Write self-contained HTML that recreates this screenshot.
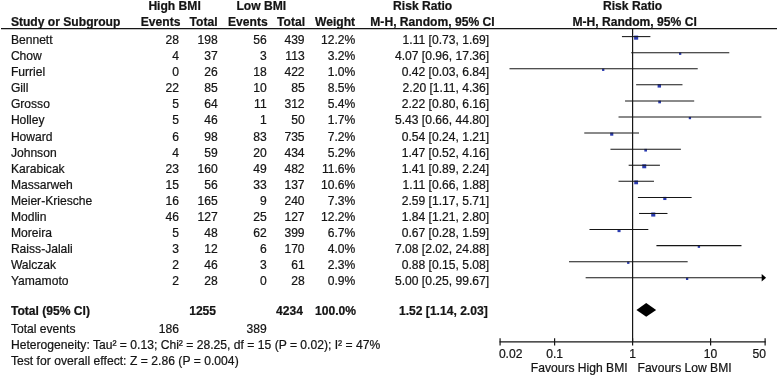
<!DOCTYPE html>
<html><head><meta charset="utf-8"><title>Forest plot</title>
<style>
html,body{margin:0;padding:0;background:#fff;}
body{width:778px;height:375px;position:relative;overflow:hidden;font-family:"Liberation Sans",sans-serif;}
.t{position:absolute;white-space:nowrap;line-height:1;font-size:12.1px;color:#141414;-webkit-text-stroke:0.22px #141414;}
svg{position:absolute;left:0;top:0;}
#txt{position:absolute;left:0;top:0;width:778px;height:375px;filter:blur(0.35px);}
</style></head><body>
<svg width="778" height="375" viewBox="0 0 778 375">
<rect x="634.09" y="35.61" width="4.09" height="4.09" fill="#2b3cb0"/>
<rect x="679.00" y="52.58" width="2.30" height="2.30" fill="#2b3cb0"/>
<rect x="602.06" y="68.66" width="2.30" height="2.30" fill="#2b3cb0"/>
<rect x="657.60" y="84.18" width="3.41" height="3.41" fill="#2b3cb0"/>
<rect x="658.26" y="100.61" width="2.72" height="2.72" fill="#2b3cb0"/>
<rect x="688.76" y="116.90" width="2.30" height="2.30" fill="#2b3cb0"/>
<rect x="610.16" y="132.56" width="3.14" height="3.14" fill="#2b3cb0"/>
<rect x="644.32" y="148.88" width="2.67" height="2.67" fill="#2b3cb0"/>
<rect x="642.25" y="164.30" width="3.98" height="3.98" fill="#2b3cb0"/>
<rect x="634.23" y="180.47" width="3.81" height="3.81" fill="#2b3cb0"/>
<rect x="663.26" y="196.87" width="3.16" height="3.16" fill="#2b3cb0"/>
<rect x="651.21" y="212.49" width="4.09" height="4.09" fill="#2b3cb0"/>
<rect x="617.52" y="229.10" width="3.03" height="3.03" fill="#2b3cb0"/>
<rect x="697.73" y="245.52" width="2.34" height="2.34" fill="#2b3cb0"/>
<rect x="627.12" y="261.62" width="2.30" height="2.30" fill="#2b3cb0"/>
<rect x="685.97" y="277.70" width="2.30" height="2.30" fill="#2b3cb0"/>
<line x1="621.94" y1="36.60" x2="650.38" y2="36.60" stroke="#161616" stroke-width="1.05"/>
<line x1="631.22" y1="52.68" x2="729.28" y2="52.68" stroke="#161616" stroke-width="1.05"/>
<line x1="509.49" y1="68.76" x2="697.73" y2="68.76" stroke="#161616" stroke-width="1.05"/>
<line x1="636.14" y1="84.84" x2="682.48" y2="84.84" stroke="#161616" stroke-width="1.05"/>
<line x1="625.04" y1="100.92" x2="694.19" y2="100.92" stroke="#161616" stroke-width="1.05"/>
<line x1="618.52" y1="117.00" x2="761.40" y2="117.00" stroke="#161616" stroke-width="1.05"/>
<line x1="584.26" y1="133.08" x2="639.06" y2="133.08" stroke="#161616" stroke-width="1.05"/>
<line x1="610.45" y1="149.16" x2="680.89" y2="149.16" stroke="#161616" stroke-width="1.05"/>
<line x1="628.65" y1="165.24" x2="659.92" y2="165.24" stroke="#161616" stroke-width="1.05"/>
<line x1="618.52" y1="181.32" x2="653.98" y2="181.32" stroke="#161616" stroke-width="1.05"/>
<line x1="637.92" y1="197.40" x2="691.62" y2="197.40" stroke="#161616" stroke-width="1.05"/>
<line x1="639.06" y1="213.48" x2="667.48" y2="213.48" stroke="#161616" stroke-width="1.05"/>
<line x1="589.48" y1="229.56" x2="648.31" y2="229.56" stroke="#161616" stroke-width="1.05"/>
<line x1="656.42" y1="245.64" x2="741.48" y2="245.64" stroke="#161616" stroke-width="1.05"/>
<line x1="569.01" y1="261.72" x2="687.66" y2="261.72" stroke="#161616" stroke-width="1.05"/>
<line x1="585.64" y1="277.80" x2="762.50" y2="277.80" stroke="#161616" stroke-width="1.05"/>
<path d="M766.1 277.80 l-4.4 -3.7 v7.4 z" fill="#000"/>
<path d="M636.45 309.95 L646.2 303.05 L656.15 309.95 L646.2 316.85 z" fill="#000"/>
<line x1="632.6" y1="28.55" x2="632.6" y2="341.8" stroke="#161616" stroke-width="1.2"/>
<line x1="499.58" y1="341.8" x2="765.62" y2="341.8" stroke="#161616" stroke-width="1.2"/>
<line x1="500.08" y1="338.2" x2="500.08" y2="345.40000000000003" stroke="#161616" stroke-width="1.2"/>
<line x1="554.60" y1="338.2" x2="554.60" y2="345.40000000000003" stroke="#161616" stroke-width="1.2"/>
<line x1="632.60" y1="338.2" x2="632.60" y2="345.40000000000003" stroke="#161616" stroke-width="1.2"/>
<line x1="710.60" y1="338.2" x2="710.60" y2="345.40000000000003" stroke="#161616" stroke-width="1.2"/>
<line x1="765.12" y1="338.2" x2="765.12" y2="345.40000000000003" stroke="#161616" stroke-width="1.2"/>
<line x1="1" y1="28.55" x2="777" y2="28.55" stroke="#161616" stroke-width="1.25"/>
</svg>
<div id="txt">
<div class="t" style="top:0px;font-weight:bold;left:24.60px;width:300px;text-align:center;">High BMI</div>
<div class="t" style="top:0px;font-weight:bold;left:111.30px;width:300px;text-align:center;">Low BMI</div>
<div class="t" style="top:0px;font-weight:bold;left:272.70px;width:300px;text-align:center;">Risk Ratio</div>
<div class="t" style="top:0px;font-weight:bold;left:482.60px;width:300px;text-align:center;">Risk Ratio</div>
<div class="t" style="top:16px;font-weight:bold;left:10.90px;">Study or Subgroup</div>
<div class="t" style="top:16px;font-weight:bold;right:597.60px;">Events</div>
<div class="t" style="top:16px;font-weight:bold;right:560.40px;">Total</div>
<div class="t" style="top:16px;font-weight:bold;right:510.30px;">Events</div>
<div class="t" style="top:16px;font-weight:bold;right:473.00px;">Total</div>
<div class="t" style="top:16px;font-weight:bold;right:422.95px;">Weight</div>
<div class="t" style="top:16px;font-weight:bold;right:283.40px;">M-H, Random, 95% CI</div>
<div class="t" style="top:16px;font-weight:bold;left:484.60px;width:300px;text-align:center;">M-H, Random, 95% CI</div>
<div class="t" style="top:34px;left:10.90px;">Bennett</div>
<div class="t" style="top:34px;right:599.10px;">28</div>
<div class="t" style="top:34px;right:560.35px;">198</div>
<div class="t" style="top:34px;right:511.35px;">56</div>
<div class="t" style="top:34px;right:473.40px;">439</div>
<div class="t" style="top:34px;right:422.70px;">12.2%</div>
<div class="t" style="top:34px;right:288.90px;">1.11 [0.73, 1.69]</div>
<div class="t" style="top:50px;left:10.90px;">Chow</div>
<div class="t" style="top:50px;right:599.10px;">4</div>
<div class="t" style="top:50px;right:560.35px;">37</div>
<div class="t" style="top:50px;right:511.35px;">3</div>
<div class="t" style="top:50px;right:473.40px;">113</div>
<div class="t" style="top:50px;right:422.70px;">3.2%</div>
<div class="t" style="top:50px;right:288.90px;">4.07 [0.96, 17.36]</div>
<div class="t" style="top:66px;left:10.90px;">Furriel</div>
<div class="t" style="top:66px;right:599.10px;">0</div>
<div class="t" style="top:66px;right:560.35px;">26</div>
<div class="t" style="top:66px;right:511.35px;">18</div>
<div class="t" style="top:66px;right:473.40px;">422</div>
<div class="t" style="top:66px;right:422.70px;">1.0%</div>
<div class="t" style="top:66px;right:288.90px;">0.42 [0.03, 6.84]</div>
<div class="t" style="top:82px;left:10.90px;">Gill</div>
<div class="t" style="top:82px;right:599.10px;">22</div>
<div class="t" style="top:82px;right:560.35px;">85</div>
<div class="t" style="top:82px;right:511.35px;">10</div>
<div class="t" style="top:82px;right:473.40px;">85</div>
<div class="t" style="top:82px;right:422.70px;">8.5%</div>
<div class="t" style="top:82px;right:288.90px;">2.20 [1.11, 4.36]</div>
<div class="t" style="top:98px;left:10.90px;">Grosso</div>
<div class="t" style="top:98px;right:599.10px;">5</div>
<div class="t" style="top:98px;right:560.35px;">64</div>
<div class="t" style="top:98px;right:511.35px;">11</div>
<div class="t" style="top:98px;right:473.40px;">312</div>
<div class="t" style="top:98px;right:422.70px;">5.4%</div>
<div class="t" style="top:98px;right:288.90px;">2.22 [0.80, 6.16]</div>
<div class="t" style="top:114px;left:10.90px;">Holley</div>
<div class="t" style="top:114px;right:599.10px;">5</div>
<div class="t" style="top:114px;right:560.35px;">46</div>
<div class="t" style="top:114px;right:511.35px;">1</div>
<div class="t" style="top:114px;right:473.40px;">50</div>
<div class="t" style="top:114px;right:422.70px;">1.7%</div>
<div class="t" style="top:114px;right:288.90px;">5.43 [0.66, 44.80]</div>
<div class="t" style="top:131px;left:10.90px;">Howard</div>
<div class="t" style="top:131px;right:599.10px;">6</div>
<div class="t" style="top:131px;right:560.35px;">98</div>
<div class="t" style="top:131px;right:511.35px;">83</div>
<div class="t" style="top:131px;right:473.40px;">735</div>
<div class="t" style="top:131px;right:422.70px;">7.2%</div>
<div class="t" style="top:131px;right:288.90px;">0.54 [0.24, 1.21]</div>
<div class="t" style="top:147px;left:10.90px;">Johnson</div>
<div class="t" style="top:147px;right:599.10px;">4</div>
<div class="t" style="top:147px;right:560.35px;">59</div>
<div class="t" style="top:147px;right:511.35px;">20</div>
<div class="t" style="top:147px;right:473.40px;">434</div>
<div class="t" style="top:147px;right:422.70px;">5.2%</div>
<div class="t" style="top:147px;right:288.90px;">1.47 [0.52, 4.16]</div>
<div class="t" style="top:163px;left:10.90px;">Karabicak</div>
<div class="t" style="top:163px;right:599.10px;">23</div>
<div class="t" style="top:163px;right:560.35px;">160</div>
<div class="t" style="top:163px;right:511.35px;">49</div>
<div class="t" style="top:163px;right:473.40px;">482</div>
<div class="t" style="top:163px;right:422.70px;">11.6%</div>
<div class="t" style="top:163px;right:288.90px;">1.41 [0.89, 2.24]</div>
<div class="t" style="top:179px;left:10.90px;">Massarweh</div>
<div class="t" style="top:179px;right:599.10px;">15</div>
<div class="t" style="top:179px;right:560.35px;">56</div>
<div class="t" style="top:179px;right:511.35px;">33</div>
<div class="t" style="top:179px;right:473.40px;">137</div>
<div class="t" style="top:179px;right:422.70px;">10.6%</div>
<div class="t" style="top:179px;right:288.90px;">1.11 [0.66, 1.88]</div>
<div class="t" style="top:195px;left:10.90px;">Meier-Kriesche</div>
<div class="t" style="top:195px;right:599.10px;">16</div>
<div class="t" style="top:195px;right:560.35px;">165</div>
<div class="t" style="top:195px;right:511.35px;">9</div>
<div class="t" style="top:195px;right:473.40px;">240</div>
<div class="t" style="top:195px;right:422.70px;">7.3%</div>
<div class="t" style="top:195px;right:288.90px;">2.59 [1.17, 5.71]</div>
<div class="t" style="top:211px;left:10.90px;">Modlin</div>
<div class="t" style="top:211px;right:599.10px;">46</div>
<div class="t" style="top:211px;right:560.35px;">127</div>
<div class="t" style="top:211px;right:511.35px;">25</div>
<div class="t" style="top:211px;right:473.40px;">127</div>
<div class="t" style="top:211px;right:422.70px;">12.2%</div>
<div class="t" style="top:211px;right:288.90px;">1.84 [1.21, 2.80]</div>
<div class="t" style="top:227px;left:10.90px;">Moreira</div>
<div class="t" style="top:227px;right:599.10px;">5</div>
<div class="t" style="top:227px;right:560.35px;">48</div>
<div class="t" style="top:227px;right:511.35px;">62</div>
<div class="t" style="top:227px;right:473.40px;">399</div>
<div class="t" style="top:227px;right:422.70px;">6.7%</div>
<div class="t" style="top:227px;right:288.90px;">0.67 [0.28, 1.59]</div>
<div class="t" style="top:243px;left:10.90px;">Raiss-Jalali</div>
<div class="t" style="top:243px;right:599.10px;">3</div>
<div class="t" style="top:243px;right:560.35px;">12</div>
<div class="t" style="top:243px;right:511.35px;">6</div>
<div class="t" style="top:243px;right:473.40px;">170</div>
<div class="t" style="top:243px;right:422.70px;">4.0%</div>
<div class="t" style="top:243px;right:288.90px;">7.08 [2.02, 24.88]</div>
<div class="t" style="top:259px;left:10.90px;">Walczak</div>
<div class="t" style="top:259px;right:599.10px;">2</div>
<div class="t" style="top:259px;right:560.35px;">46</div>
<div class="t" style="top:259px;right:511.35px;">3</div>
<div class="t" style="top:259px;right:473.40px;">61</div>
<div class="t" style="top:259px;right:422.70px;">2.3%</div>
<div class="t" style="top:259px;right:288.90px;">0.88 [0.15, 5.08]</div>
<div class="t" style="top:275px;left:10.90px;">Yamamoto</div>
<div class="t" style="top:275px;right:599.10px;">2</div>
<div class="t" style="top:275px;right:560.35px;">28</div>
<div class="t" style="top:275px;right:511.35px;">0</div>
<div class="t" style="top:275px;right:473.40px;">28</div>
<div class="t" style="top:275px;right:422.70px;">0.9%</div>
<div class="t" style="top:275px;right:288.90px;">5.00 [0.25, 99.67]</div>
<div class="t" style="top:305px;font-weight:bold;left:10.90px;">Total (95% CI)</div>
<div class="t" style="top:305px;font-weight:bold;right:561.95px;">1255</div>
<div class="t" style="top:305px;font-weight:bold;right:475.00px;">4234</div>
<div class="t" style="top:305px;font-weight:bold;right:422.00px;">100.0%</div>
<div class="t" style="top:305px;font-weight:bold;right:290.30px;">1.52 [1.14, 2.03]</div>
<div class="t" style="top:323px;left:10.90px;">Total events</div>
<div class="t" style="top:323px;right:599.10px;">186</div>
<div class="t" style="top:323px;right:511.35px;">389</div>
<div class="t" style="top:339px;letter-spacing:0.015px;left:10.90px;">Heterogeneity: Tau² = 0.13; Chi² = 28.25, df = 15 (P = 0.02); I² = 47%</div>
<div class="t" style="top:355px;letter-spacing:0.038px;left:10.90px;">Test for overall effect: Z = 2.86 (P = 0.004)</div>
<div class="t" style="top:348px;left:498.90px;">0.02</div>
<div class="t" style="top:348px;left:404.60px;width:300px;text-align:center;">0.1</div>
<div class="t" style="top:348px;left:482.50px;width:300px;text-align:center;">1</div>
<div class="t" style="top:348px;left:560.60px;width:300px;text-align:center;">10</div>
<div class="t" style="top:348px;right:12.00px;">50</div>
<div class="t" style="top:362px;right:150.40px;">Favours High BMI</div>
<div class="t" style="top:362px;left:637.50px;">Favours Low BMI</div>
</div>
</body></html>
